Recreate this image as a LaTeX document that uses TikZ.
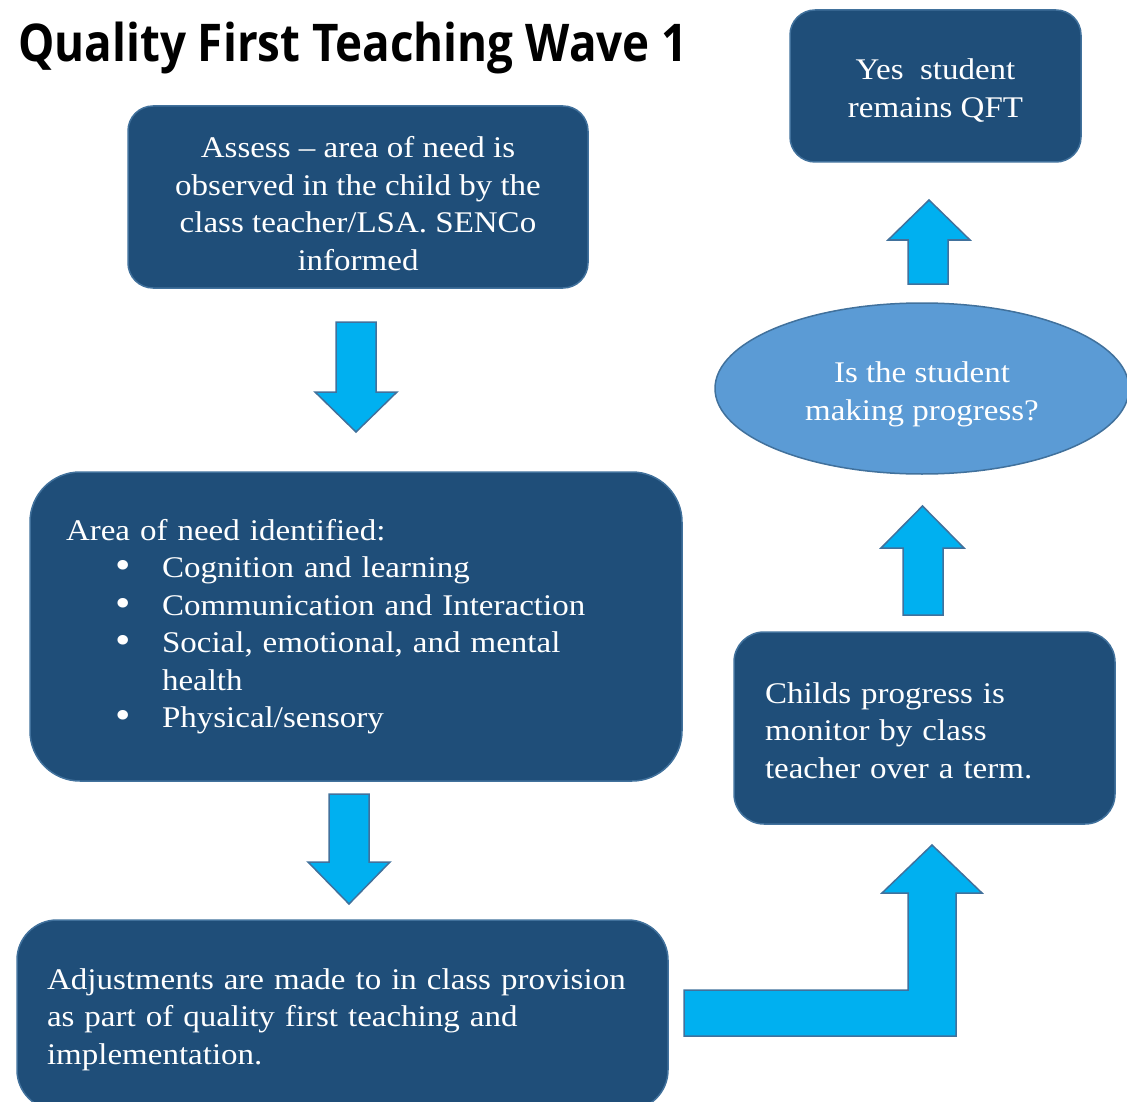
\documentclass[tikz,border=0pt]{standalone}
\usepackage{fontspec}
\setmainfont{Liberation Serif}[FakeStretch=1.1]
\newfontfamily\titlefont{Open Sans}[FakeStretch=0.88]
\usetikzlibrary{shapes.geometric}
\definecolor{boxfill}{HTML}{1F4E79}
\definecolor{boxline}{HTML}{41719C}
\definecolor{askfill}{HTML}{5B9BD5}
\definecolor{arrowfill}{HTML}{00B0F0}
\newcommand{\needitem}[1]{\hspace*{49pt}\makebox[47pt][l]{%
  \raisebox{-1pt}{\fontsize{40}{37.5}\selectfont\textbullet}}#1}
\newcommand{\toplift}[1]{\rule{0pt}{#1}}
\tikzset{every picture/.style={
  line join=miter               % Sharp arrow corners.
  }
}

\begin{document}
\begin{tikzpicture}[
        x=1pt,y=-1pt,
        stage/.style={
          rectangle,
          draw=boxline,
          fill=boxfill,
          line width=1.5pt,
          text=white,
          font=\fontsize{30}{37.5}\selectfont,
        },
        ask/.style={
          ellipse,
          draw=boxline,
          fill=askfill,
          line width=1.5pt,
          text=white,
          inner sep=0pt,
          font=\fontsize{30}{37.5}\selectfont,
        },
        blockarrow/.style={
          draw=boxline,
          fill=arrowfill,
          line width=1.5pt,
        }]
      \useasboundingbox (0,0) rectangle (1127,1102);
      \node[anchor=base west,inner sep=0pt] (title) at (18,62)
        {\titlefont\bfseries\fontsize{52}{60}\selectfont Quality First Teaching Wave 1};
      \node[stage,rounded corners=25pt,minimum width=460pt,minimum height=182pt,
        align=center] (assess) at (358,197) {%
        \toplift{34pt}Assess -- area of need is\\ observed in the child by the\\
        class teacher/LSA. SENCo\\ informed};
      \node[stage,rounded corners=50pt,minimum width=652pt,minimum height=309pt,
        text width=580pt,inner xsep=36pt,align=left] (need) at (356,626.5) {%
        Area of need identified:\\
        \needitem{Cognition and learning}\\
        \needitem{Communication and Interaction}\\
        \needitem{Social, emotional, and mental}\\
        \hspace*{96pt}health\\
        \needitem{Physical/sensory}};
      \node[stage,rounded corners=40pt,minimum width=651pt,minimum height=190pt,
        text width=591pt,inner xsep=30pt,align=left] (adjust) at (342.5,1015) {%
        \toplift{30pt}Adjustments are made to in class provision\\
        as part of quality first teaching and\\ implementation.};
      \node[stage,rounded corners=30pt,minimum width=381pt,minimum height=192pt,
        text width=319pt,inner xsep=31pt,align=left] (monitor) at (924.5,728) {%
        \toplift{26pt}Childs progress is\\ monitor by class\\ teacher over a term.};
      \node[ask,minimum width=414pt,minimum height=171pt,align=center]
        (progress) at (922,388.5) {\toplift{32pt}Is the student\\ making progress?};
      \node[stage,rounded corners=25pt,minimum width=291pt,minimum height=152pt,
        align=center] (remain) at (935.5,86) {\toplift{30pt}Yes~~student\\ remains QFT};
      % block arrows between the stages
      \draw[blockarrow] (336,322) -- (376,322) -- (376,392) -- (397,392)
        -- (356,432) -- (315,392) -- (336,392) -- cycle;
      \draw[blockarrow] (329,794) -- (369,794) -- (369,862) -- (390,862)
        -- (349,904) -- (308,862) -- (329,862) -- cycle;
      \draw[blockarrow] (684,990) -- (908,990) -- (908,893) -- (882,893)
        -- (932,845) -- (982,893) -- (956,893) -- (956,1036) -- (684,1036) -- cycle;
      \draw[blockarrow] (903,615) -- (943,615) -- (943,548) -- (964,548)
        -- (922.5,506) -- (881,548) -- (903,548) -- cycle;
      \draw[blockarrow] (908,284) -- (948,284) -- (948,240) -- (970,240)
        -- (929,200) -- (888,240) -- (908,240) -- cycle;
      \end{tikzpicture}
\end{document}
